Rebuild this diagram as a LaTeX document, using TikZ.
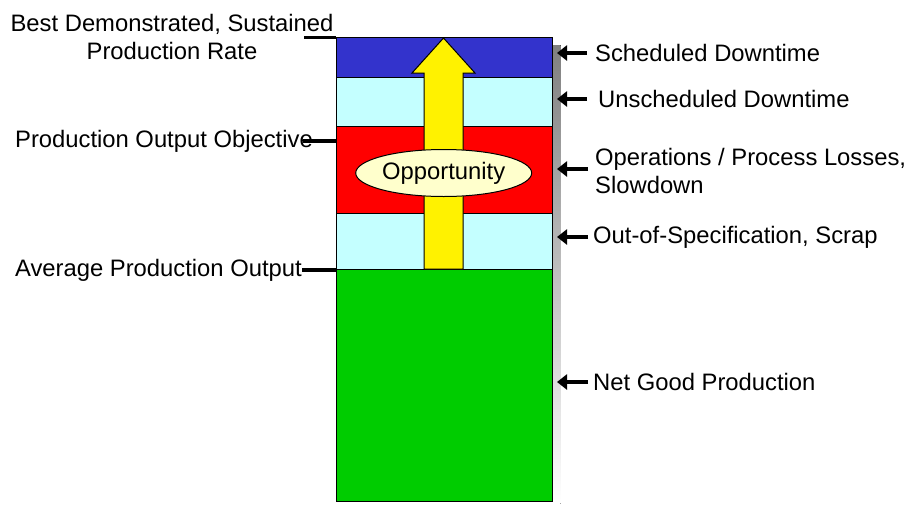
\documentclass[tikz,border=0pt]{standalone}
\usepackage{fontspec}
\setmainfont{Liberation Sans}
\usetikzlibrary{arrows.meta,shapes.geometric}

\definecolor{sched}{HTML}{3333CC}
\definecolor{unsched}{HTML}{C4FFFF}
\definecolor{losses}{HTML}{FF0000}
\definecolor{netgood}{HTML}{00CC00}
\definecolor{oppfill}{HTML}{FFFFCC}
\definecolor{shade}{HTML}{808080}

\begin{document}
\begin{tikzpicture}[x=1pt,y=-1pt,
      lbl/.style={font=\fontsize{23.8}{28}\selectfont,inner sep=0pt},
      band/.style={draw=black,line width=1pt},
      tick/.style={line width=3.4pt},
      pointer/.style={line width=3.4pt,-{Triangle[length=10pt,width=15pt]}}]
   \useasboundingbox (0,0) rectangle (906,504);
   % shadow behind the column
   \fill[shade] (343,45) rectangle (560.5,503.5);
   % the stacked bands, top to bottom
   \draw[band,fill=sched]   (336,37)  rectangle (552,77);
   \draw[band,fill=unsched] (336,77)  rectangle (552,126);
   \draw[band,fill=losses]  (336,126) rectangle (552,213);
   \draw[band,fill=unsched] (336,213) rectangle (552,269);
   \draw[band,fill=netgood] (336,269) rectangle (552,501);
   % big arrow up the middle
   \draw[band,fill=yellow] (424,269) -- (424,73) -- (412,73) -- (443.5,38)
         -- (475,73) -- (463,73) -- (463,269) -- cycle;
   \node[ellipse,draw=black,line width=1pt,fill=oppfill,lbl,
         minimum width=176pt,minimum height=47pt] (opp) at (443.7,173) {Opportunity};

   % left side levels
   \node[lbl,align=center,anchor=south] (best) at (172,60) {Best Demonstrated, Sustained\\Production Rate};
   \node[lbl,anchor=east] (obj) at (313,141) {Production Output Objective};
   \node[lbl,anchor=east] (avg) at (302,270) {Average Production Output};
   \coordinate (bestL) at (336,37.5);
   \coordinate (objL)  at (336,141);
   \coordinate (avgL)  at (336,270);
   \draw[tick] (304,37.5) -- (bestL);
   \draw[tick] ([xshift=-10pt]obj.east) -- (objL);
   \draw[tick] (avg.east) -- (avgL);

   % right side losses
   \node[lbl,anchor=west] (sd)  at (595,53)  {Scheduled Downtime};
   \node[lbl,anchor=west] (ud)  at (598,99)  {Unscheduled Downtime};
   \node[lbl,anchor=west,align=left] (ops) at (595,171) {Operations / Process Losses,\\Slowdown};
   \node[lbl,anchor=west] (oos) at (593,237) {Out-of-Specification, Scrap};
   \node[lbl,anchor=west] (ngp) at (593,382) {Net Good Production};
   \coordinate (sdR)  at (557,53);
   \coordinate (udR)  at (557,99);
   \coordinate (opsR) at (557,169);
   \coordinate (oosR) at (557,237);
   \coordinate (ngpR) at (557,382);
   \draw[pointer] (587,53)  -- (sdR);
   \draw[pointer] (587,99)  -- (udR);
   \draw[pointer] (588,169) -- (opsR);
   \draw[pointer] (588,237) -- (oosR);
   \draw[pointer] (588,382) -- (ngpR);
\end{tikzpicture}
\end{document}
